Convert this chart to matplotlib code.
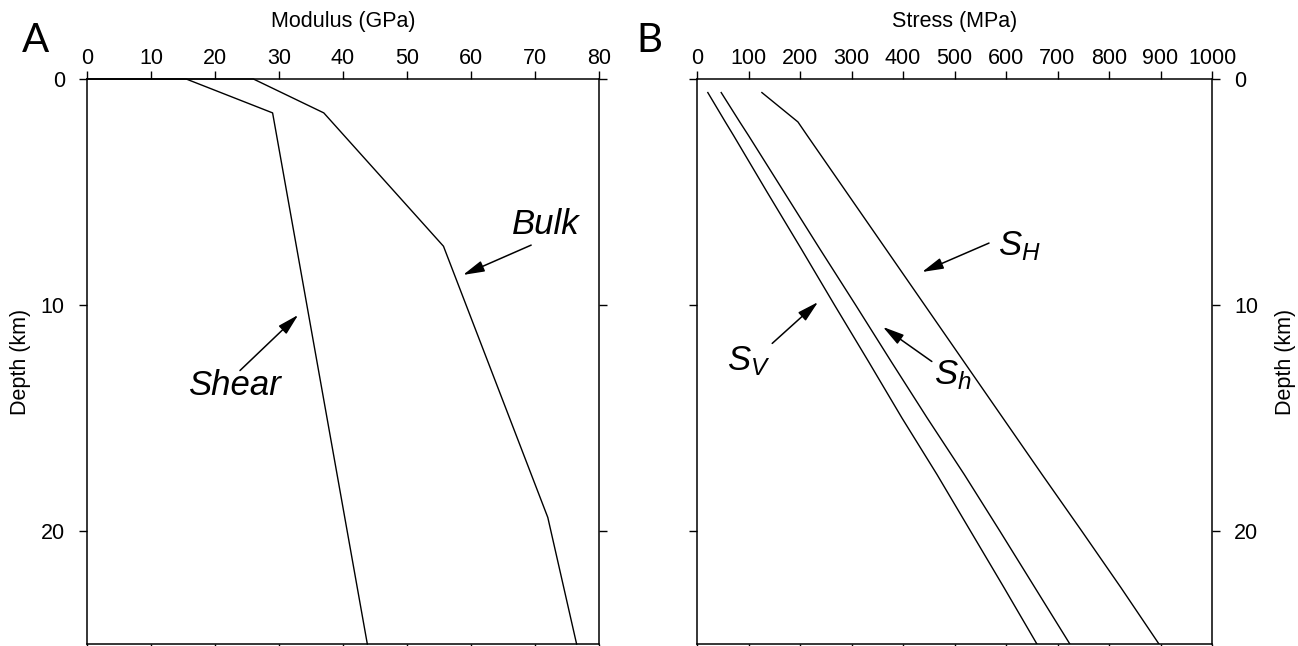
import matplotlib
matplotlib.use("Agg")
import matplotlib.pyplot as plt

plt.rcParams['font.family'] = ['Liberation Sans', 'DejaVu Sans']
plt.rcParams['mathtext.fontset'] = 'custom'
plt.rcParams['mathtext.it'] = 'Liberation Sans:italic'
plt.rcParams['mathtext.rm'] = 'Liberation Sans'

# ---- Panel A data: elastic moduli vs depth ----
shear_depth = [0, 0, 1.5, 25]
shear_mod = [0, 15.5, 29.0, 43.8]
bulk_depth = [0, 0, 1.5, 7.4, 19.4, 25]
bulk_mod = [0, 26.0, 37.0, 55.7, 72.0, 76.5]

# ---- Panel B data: stresses vs depth ----
stress_depth = [0.6, 1.9, 2.5, 5, 7.5, 10, 12.5, 15, 17.5, 20, 22.5, 25]
sv = [21, 55, 71, 136, 202, 267, 333, 398, 466, 531, 596, 660]
sh = [47, 83, 100, 169, 238, 308, 377, 447, 519, 588, 656, 724]
sH = [126, 196, 214, 290, 366, 442, 518, 594, 670, 747, 823, 897]

mod_ticks = list(range(0, 81, 10))
stress_ticks = list(range(0, 1001, 100))
depth_ticks = [0, 10, 20]

W, H = 1298, 646
fig = plt.figure(figsize=(W / 100, H / 100), dpi=100)

bot = (H - 644) / H
top = (H - 79) / H
axA = fig.add_axes([87 / W, bot, 512 / W, top - bot])
axB = fig.add_axes([697 / W, bot, 515 / W, top - bot])

lw_data = 1.0
fs_tick = 15.5
fs_lab = 15.5
for ax in (axA, axB):
    ax.set_ylim(25, 0)
    for s in ax.spines.values():
        s.set_linewidth(1.1)
    ax.set_yticks(depth_ticks)
    ax.tick_params(axis='both', which='both', direction='out', length=6,
                   width=1.0, labelsize=fs_tick,
                   top=True, bottom=True, left=True, right=True,
                   labeltop=True, labelbottom=False)
    ax.tick_params(axis='x', pad=1)
    ax.tick_params(axis='y', pad=10)
    ax.xaxis.set_label_position('top')

axA.set_xlim(0, 80)
axA.set_xticks(mod_ticks)
axA.tick_params(axis='y', labelleft=True, labelright=False)
axA.set_xlabel('Modulus (GPa)', fontsize=fs_lab, labelpad=15)
axA.set_ylabel('Depth (km)', fontsize=fs_lab, labelpad=7)
axA.plot(shear_mod, shear_depth, color='black', lw=lw_data, clip_on=False)
axA.plot(bulk_mod, bulk_depth, color='black', lw=lw_data, clip_on=False)

axB.set_xlim(0, 1000)
axB.set_xticks(stress_ticks)
axB.tick_params(axis='y', labelleft=False, labelright=True)
axB.yaxis.set_label_position('right')
axB.set_xlabel('Stress (MPa)', fontsize=fs_lab, labelpad=15)
axB.set_ylabel('Depth (km)', fontsize=fs_lab, labelpad=12)
axB.plot(sv, stress_depth, color='black', lw=lw_data)
axB.plot(sh, stress_depth, color='black', lw=lw_data)
axB.plot(sH, stress_depth, color='black', lw=lw_data)

arrow = dict(arrowstyle='-|>,head_length=0.65,head_width=0.17', color='black',
             lw=1.1, shrinkA=0, shrinkB=0, mutation_scale=20)
lbl = dict(fontsize=25, style='italic', ha='center', va='center')

axA.annotate('', xy=(33.0, 10.44), xytext=(23.9, 12.9), arrowprops=arrow)
axA.text(23.1, 13.55, 'Shear', **lbl)
axA.annotate('', xy=(58.75, 8.67), xytext=(69.4, 7.35), arrowprops=arrow)
axA.text(71.7, 6.45, 'Bulk', **lbl)

axB.annotate('', xy=(437, 8.54), xytext=(567, 7.26), arrowprops=arrow)
axB.text(625, 7.4, r'$S_H$', **lbl)
axB.annotate('', xy=(361, 10.97), xytext=(456, 12.5), arrowprops=arrow)
axB.text(497, 13.1, r'$S_h$', **lbl)
axB.annotate('', xy=(235, 9.87), xytext=(146, 11.7), arrowprops=arrow)
axB.text(100, 12.5, r'$S_V$', **lbl)

fig.text(35 / W, 1 - 40 / H, 'A', fontsize=29, family='Lato', ha='center', va='center')
fig.text(649 / W, 1 - 40 / H, 'B', fontsize=29, family='Lato', ha='center', va='center')

fig.savefig('out.png', dpi=100)
